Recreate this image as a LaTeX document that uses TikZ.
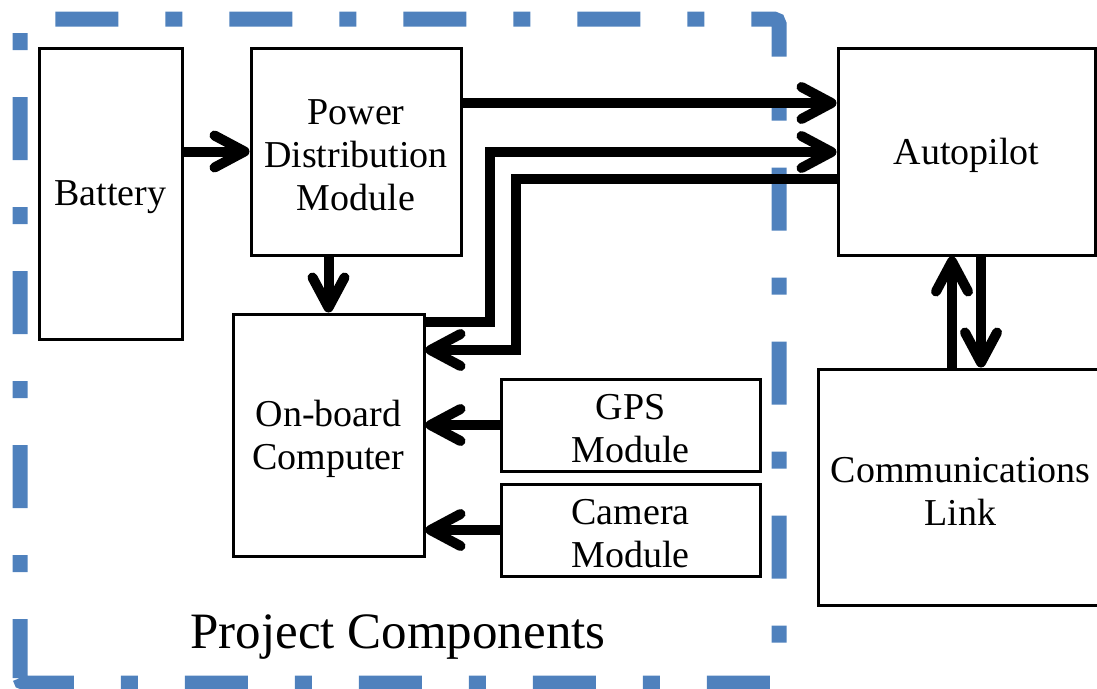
\documentclass[tikz,border=0pt]{standalone}
\usepackage{fontspec}
\setmainfont{Liberation Serif}
\usetikzlibrary{arrows.meta}
\definecolor{frameblue}{RGB}{79,129,189}
\begin{document}
\begin{tikzpicture}[x=1pt,y=-1pt,
  box/.style={draw=black, line width=3pt, inner sep=0pt},
  boxtext/.style={align=center, inner sep=0pt, yshift=-4pt,
              font=\fontsize{38}{43}\selectfont},
  arr/.style={line width=10pt, line join=miter,
              -{Straight Barb[round,length=30pt,width=32pt]}},
  frame/.style={draw=frameblue, line width=15pt,
                dash pattern=on 63pt off 47pt on 17pt off 47pt,
                dash phase=4pt, rounded corners=5pt},
  caption/.style={font=\fontsize{51}{56}\selectfont, anchor=base},
]
\useasboundingbox (0,0) rectangle (1097,688);
\clip (0,0) rectangle (1097,688);

% dash-dot frame around the project components
\draw[frame] (20,683) -- (20,19) -- (779,19) -- (779,683) -- cycle;
\node[caption] (title) at (398,648) {Project Components};

% blocks
\node[box, minimum width=143pt, minimum height=291pt,
      label={[boxtext]center:Battery}] (bat) at (110.5,193.5) {};
\node[box, minimum width=210pt, minimum height=207pt,
      label={[boxtext]center:{Power\\Distribution\\Module}}] (pdm) at (356,151.5) {};
\node[box, minimum width=257pt, minimum height=207pt,
      label={[boxtext]center:Autopilot}] (ap) at (966.5,151.5) {};
\node[box, minimum width=191pt, minimum height=242pt,
      label={[boxtext]center:{On-board\\Computer}}] (obc) at (328.5,435) {};
\node[box, minimum width=259pt, minimum height=92pt,
      label={[boxtext]center:{GPS\\Module}}] (gps) at (630.5,425) {};
\node[box, minimum width=259pt, minimum height=92pt,
      label={[boxtext]center:{Camera\\Module}}] (cam) at (630.5,530) {};
\node[box, minimum width=285pt, minimum height=236pt,
      label={[boxtext]center:{Communications\\Link}}] (com) at (960.5,487) {};

% connections
\draw[arr] (bat.east |- pdm.west) -- (pdm.west);
\draw[arr] (pdm.south -| obc.north) -- (obc.north);
\draw[arr] (pdm.east |- 0,103) -- (ap.west |- 0,103);
\draw[arr] (obc.east |- 0,322) -| (490,152) -- (ap.west |- 0,152);
\draw[arr] (ap.west |- 0,179) -| (516,350) -- (obc.east |- 0,350);
\draw[arr] (gps.west) -- (obc.east |- gps.west);
\draw[arr] (cam.west) -- (obc.east |- cam.west);
\draw[arr] (com.north -| 952,0) -- (ap.south -| 952,0);
\draw[arr] (ap.south -| 981,0) -- (com.north -| 981,0);
\end{tikzpicture}
\end{document}
